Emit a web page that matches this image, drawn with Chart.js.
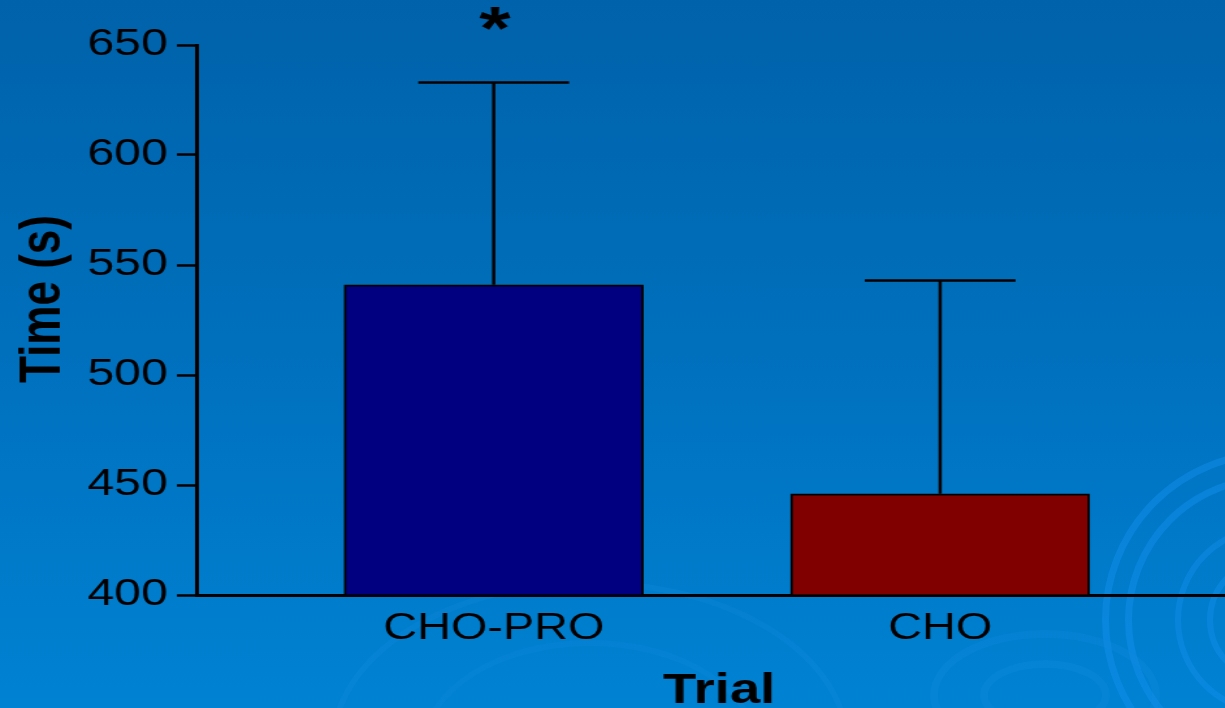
<!DOCTYPE html>
<html lang="en">
<head>
    <meta charset="UTF-8">
    <title>Time by Trial</title>
    <script src="https://cdn.jsdelivr.net/npm/chart.js"></script>
    <style>
        html, body {
            margin: 0;
            padding: 0;
            width: 1225px;
            height: 708px;
            overflow: hidden;
        }
        body {
            position: relative;
            background: linear-gradient(to bottom, #0062aa 0%, #0070bd 50%, #0082d3 100%);
        }
        .ring {
            position: absolute;
            border-radius: 50%;
            border-style: solid;
            box-sizing: border-box;
        }
        /* the slide is a stretched picture, so the chart is drawn narrow and widened */
        .wrap {
            position: absolute;
            left: 0;
            top: 0;
            width: 942px;
            height: 708px;
            transform: scaleX(1.3004);
            transform-origin: 0 0;
        }
    </style>
</head>
<body>
    <!-- faint ripples of the slide background -->
    <div class="ring" style="left:1102px; top:450px; width:340px; height:340px; border-width:7px; border-color:rgba(20,145,240,0.45);"></div>
    <div class="ring" style="left:1125px; top:475px; width:290px; height:290px; border-width:7px; border-color:rgba(20,145,240,0.45);"></div>
    <div class="ring" style="left:1175px; top:525px; width:190px; height:190px; border-width:6px; border-color:rgba(20,145,240,0.4);"></div>
    <div class="ring" style="left:1207px; top:557px; width:126px; height:126px; border-width:6px; border-color:rgba(20,145,240,0.4);"></div>
    <div class="ring" style="left:930px; top:630px; width:230px; height:130px; border-width:8px; border-color:rgba(20,140,225,0.25);"></div>
    <div class="ring" style="left:980px; top:660px; width:130px; height:70px; border-width:8px; border-color:rgba(20,140,225,0.25);"></div>
    <div class="ring" style="left:330px; top:580px; width:520px; height:330px; border-width:6px; border-color:rgba(20,140,225,0.25);"></div>
    <div class="ring" style="left:420px; top:640px; width:340px; height:220px; border-width:6px; border-color:rgba(20,140,225,0.2);"></div>

    <div class="wrap">
        <canvas id="timeChart" width="942" height="708"></canvas>
    </div>

    <script>
        // data
        const categories = ['CHO-PRO', 'CHO'];
        const meanTimes = [541, 446];      // s
        const errorUp = [92, 97];          // upper error bar length, s
        const significance = ['*', ''];
        const barColors = ['#000080', '#800000'];
        const yMin = 400, yMax = 650, yStep = 50;

        const fontFamily = "'Liberation Sans', Arial, sans-serif";

        const errorBars = {
            id: 'errorBars',
            afterDatasetsDraw(chart) {
                const ctx = chart.ctx;
                const x = chart.scales.x, y = chart.scales.y;
                ctx.save();
                ctx.strokeStyle = '#000';
                ctx.lineWidth = 2.5;
                ctx.fillStyle = '#000';
                meanTimes.forEach((m, i) => {
                    const px = x.getPixelForValue(i + 1);
                    const top = y.getPixelForValue(m + errorUp[i]);
                    const base = y.getPixelForValue(m);
                    ctx.beginPath();
                    ctx.moveTo(px, base);
                    ctx.lineTo(px, top);
                    ctx.moveTo(px - 58, top);
                    ctx.lineTo(px + 58, top);
                    ctx.stroke();
                    if (significance[i]) {
                        ctx.font = 'bold 62px ' + fontFamily;
                        ctx.textAlign = 'center';
                        ctx.textBaseline = 'alphabetic';
                        ctx.fillText(significance[i], px + 1, top - 33);
                    }
                });
                ctx.restore();
            }
        };

        const axisTitles = {
            id: 'axisTitles',
            afterDraw(chart) {
                const ctx = chart.ctx;
                ctx.save();
                ctx.fillStyle = '#000';
                ctx.font = 'bold 44px ' + fontFamily;
                ctx.textAlign = 'center';
                ctx.textBaseline = 'middle';
                ctx.translate(34, 299);
                ctx.rotate(-Math.PI / 2);
                ctx.fillText('Time (s)', 0, 0);
                ctx.restore();

                ctx.save();
                ctx.fillStyle = '#000';
                ctx.font = 'bold 42px ' + fontFamily;
                ctx.textAlign = 'center';
                ctx.textBaseline = 'alphabetic';
                ctx.fillText('Trial', 553, 703);
                ctx.restore();
            }
        };

        new Chart(document.getElementById('timeChart'), {
            type: 'bar',
            data: {
                datasets: [{
                    data: meanTimes.map((v, i) => ({ x: i + 1, y: v })),
                    backgroundColor: barColors,
                    borderColor: '#000',
                    borderWidth: 2,
                    barThickness: 230,
                    base: yMin
                }]
            },
            options: {
                responsive: false,
                animation: false,
                devicePixelRatio: 1,
                layout: { padding: { top: 45, left: 0, right: 0, bottom: 0 } },
                plugins: {
                    legend: { display: false },
                    tooltip: { enabled: false }
                },
                scales: {
                    x: {
                        type: 'linear',
                        min: 0.334,
                        max: 2.638,
                        offset: false,
                        afterBuildTicks: s => { s.ticks = categories.map((c, i) => ({ value: i + 1 })); },
                        afterFit: s => { s.height = 113; },
                        grid: { display: false, offset: false },
                        border: { display: true, color: '#000', width: 3 },
                        ticks: {
                            padding: 4,
                            color: '#000',
                            font: { family: fontFamily, size: 36 },
                            callback: v => categories[v - 1] || ''
                        }
                    },
                    y: {
                        min: yMin,
                        max: yMax,
                        afterFit: s => { s.width = 151; },
                        grid: {
                            drawOnChartArea: false,
                            drawTicks: true,
                            tickLength: 15,
                            tickWidth: 2.5,
                            tickColor: '#000'
                        },
                        border: { display: true, color: '#000', width: 3 },
                        ticks: {
                            stepSize: yStep,
                            padding: 7,
                            color: '#000',
                            font: { family: fontFamily, size: 37 }
                        }
                    }
                }
            },
            plugins: [errorBars, axisTitles]
        });
    </script>
</body>
</html>
